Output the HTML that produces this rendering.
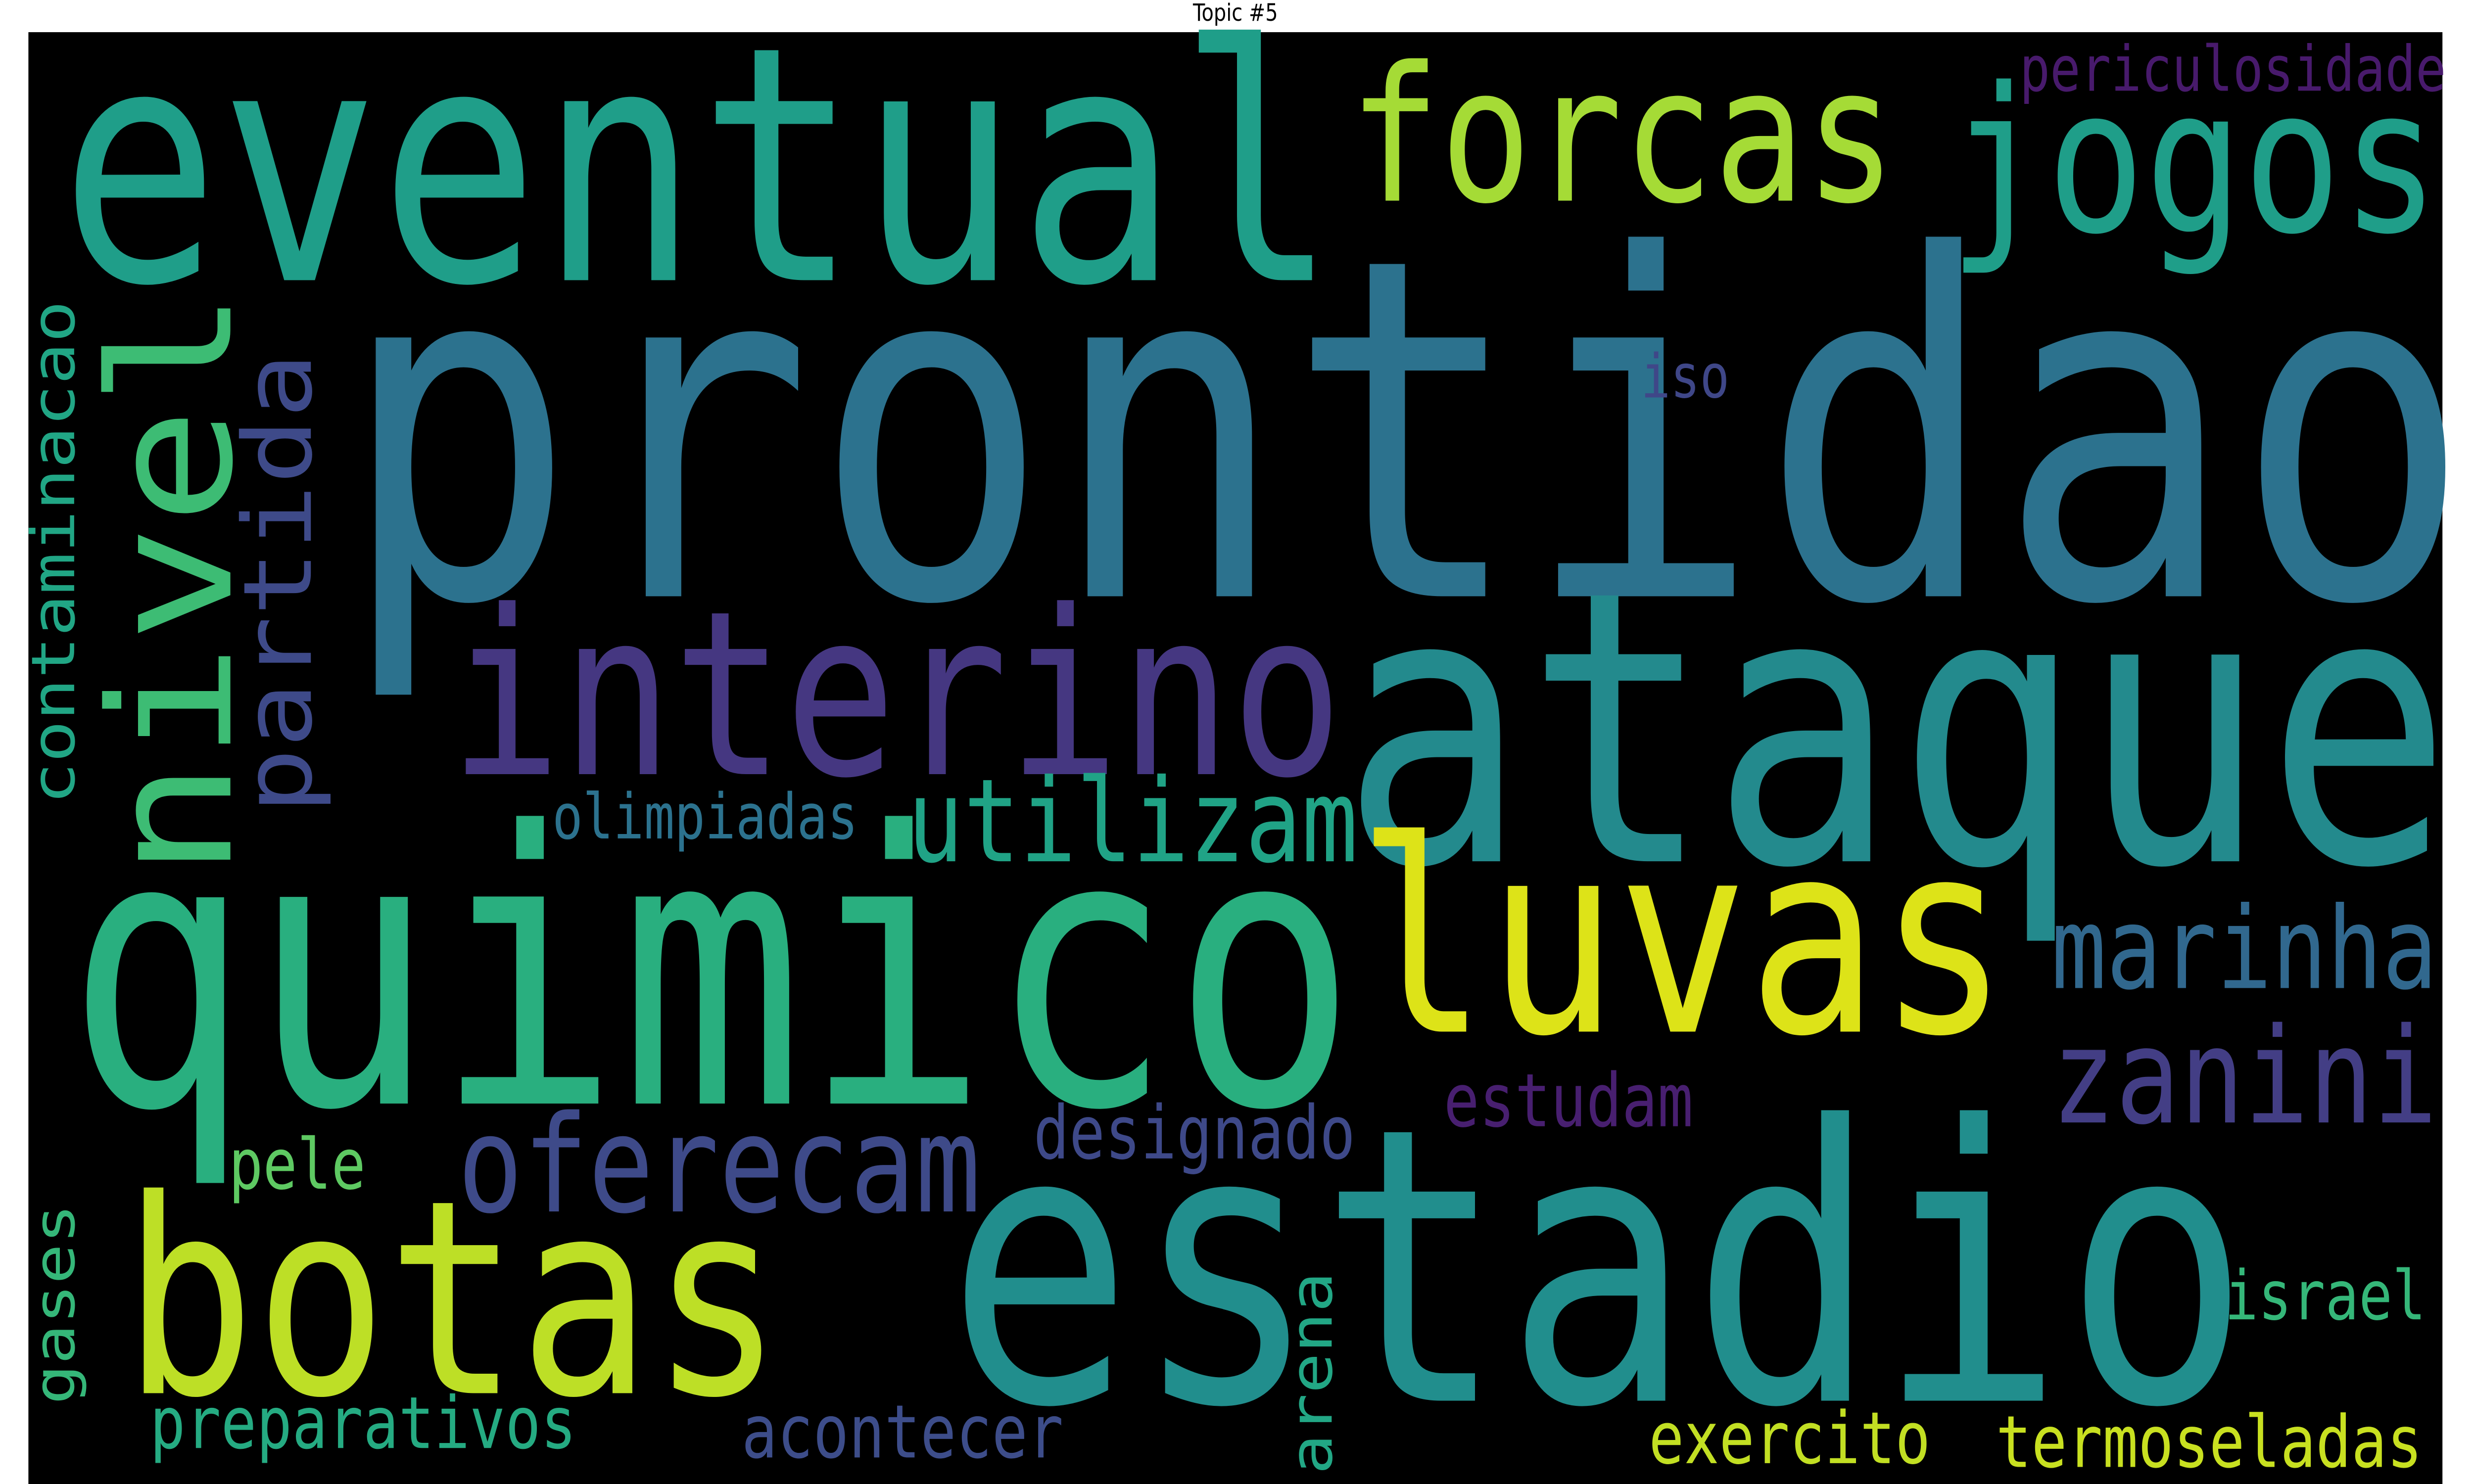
<!DOCTYPE html>
<html><head><meta charset="utf-8"><style>
html,body{margin:0;padding:0;background:#fff;overflow:hidden;width:100%;height:100%;}
svg{display:block;width:100vw;height:100vh;}
</style></head><body>
<svg xmlns="http://www.w3.org/2000/svg" viewBox="0 0 1568 784" preserveAspectRatio="none">
<rect x="0" y="0" width="1568" height="784" fill="#ffffff"/>
<text x="783" y="11" font-family="DejaVu Sans, Liberation Sans, sans-serif" font-size="12.5" text-anchor="middle" fill="#000">Topic #5</text>
<rect x="18" y="17" width="1530" height="767" fill="#000"/>
<g id="words" font-family="DejaVu Sans Mono, Liberation Mono, monospace"></g>
</svg>
<script>
const words = ["prontidao","eventual","forcas","jogos","interino","ataque","quimico","luvas","nivel","partida","contaminacao","utilizam","olimpiadas","marinha","zanini","oferecam","designado","estudam","iso","periculosidade","botas","estadio","pele","gases","preparativos","acontecer","arena","exercito","termoseladas","israel"];
const sizes = [250,173,99,106,121,200,200,141,107,60,38,61,33,60,70,71,39,39,32,33,143,202,37,36,38,39,37,38,38,36];
const colors = ["#2c728e","#1f9e89","#a5db36","#1f9e89","#453781","#238a8d","#29af7f","#dde318","#3dbc74","#3e4a89","#21a685","#20a386","#2c728e","#31688e","#433e85","#3e4a89","#3e4989","#481f70","#3f4788","#481a6c","#bddf26","#218e8d","#5ec962","#35b779","#25ab82","#3d4d8a","#22a785","#c2df23","#c8e020","#35b779"];
const px = [215,38,855,1235,285,850,42,860,146,197,47,575,350,1300,1300,290,655,915,1040,1280,78,600,145,47,95,470,844,1045,1265,1410];
const py = [315,148,106,122,409,455,583,545,464,430,425,455,443,522,593,640,612,595,210,48,736,740,628,742,765,770,779,773,775,697];
const lens = [1325,794,340,305,555,690,802,405,305,239,261,280,190,240,240,325,200,155,55,265,410,810,85,104,265,200,105,175,265,125];
const rot = [0,0,0,0,0,0,0,0,1,1,1,0,0,0,0,0,0,0,0,0,0,0,0,1,0,0,1,0,0,0];
const g = document.getElementById('words');
const NS = "http://www.w3.org/2000/svg";
words.forEach((w,i)=>{
  const t = document.createElementNS(NS,'text');
  
  
  t.setAttribute('x', px[i]);
  t.setAttribute('y', py[i]);
  t.setAttribute('font-size', sizes[i]);
  t.setAttribute('fill', colors[i]);
  t.setAttribute('textLength', lens[i]*1.02);
  t.setAttribute('lengthAdjust', 'spacingAndGlyphs');
  if (rot[i]) t.setAttribute('transform', 'rotate(-90 ' + px[i] + ' ' + py[i] + ')');
  t.textContent = w;
  g.appendChild(t);
});
</script>
</body></html>
